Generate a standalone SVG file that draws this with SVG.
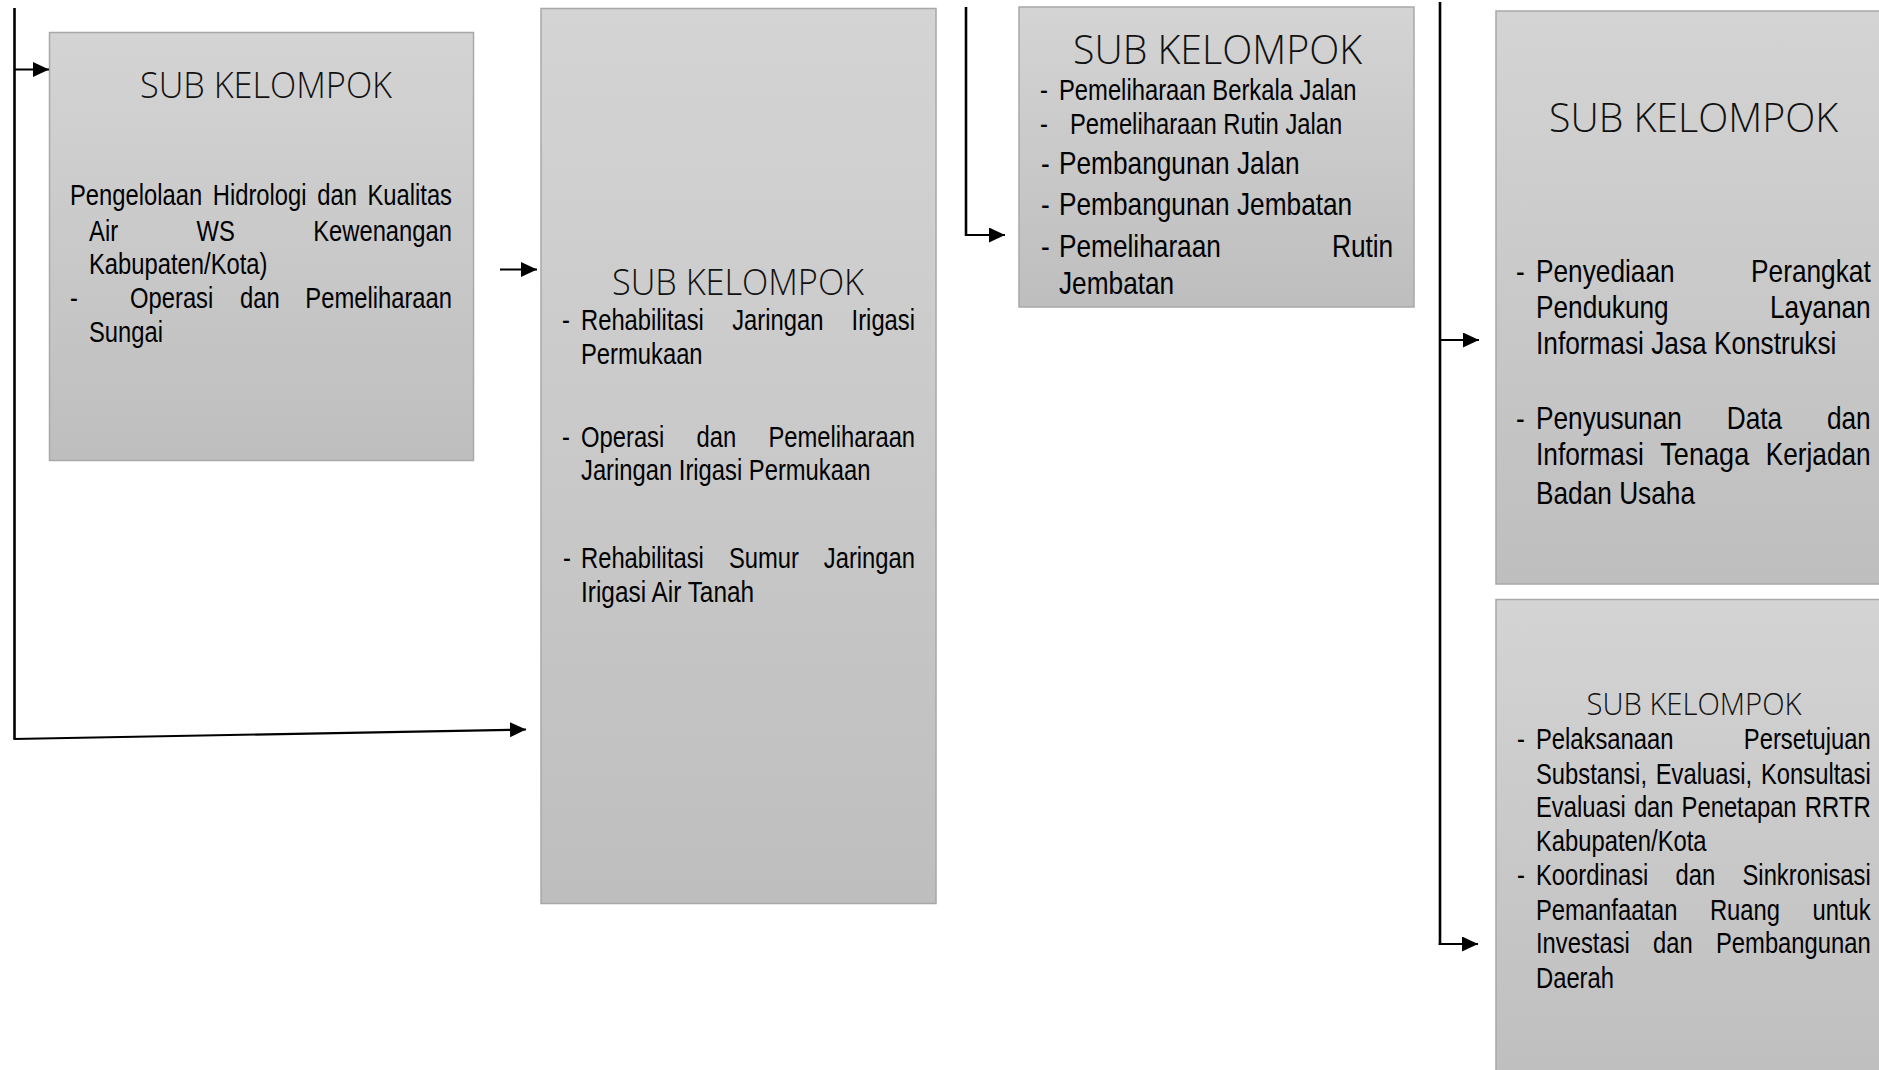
<svg xmlns="http://www.w3.org/2000/svg" width="1879" height="1070" viewBox="0 0 1879 1070">
<style>
.box{fill:url(#g);stroke:#a8a8a8;stroke-width:1.5}
.title{font-family:'Open Sans','Noto Sans',sans-serif;font-weight:300;fill:#111;text-anchor:middle}
.b{font-family:'Liberation Sans Narrow','Arial Narrow','Liberation Sans',Arial,sans-serif;font-size:29px;fill:#000}
.b32{font-size:32px}
.trunk{stroke:#000;stroke-width:2.6;fill:none}
.arr{stroke:#000;stroke-width:2.2;fill:none;marker-end:url(#ah)}
</style>
<defs>
<linearGradient id="g" x1="0" y1="0" x2="0" y2="1">
<stop offset="0" stop-color="#d4d4d4"/>
<stop offset="1" stop-color="#bebebe"/>
</linearGradient>
<marker id="ah" markerUnits="userSpaceOnUse" markerWidth="20" markerHeight="20" refX="16" refY="7.5" orient="auto">
<path d="M0,0 L16,7.5 L0,15 Z" fill="#000"/>
</marker>
</defs>
<rect width="1879" height="1070" fill="#fff"/>

<g id="node1">
<rect class="box" x="49.5" y="32.5" width="424" height="428"/>
<text class="title" x="266" y="98" font-size="36" textLength="252" lengthAdjust="spacingAndGlyphs">SUB KELOMPOK</text>
<text class="b" x="70" y="205" textLength="132.2" lengthAdjust="spacingAndGlyphs">Pengelolaan</text>
<text class="b" x="212.8" y="205" textLength="93.8" lengthAdjust="spacingAndGlyphs">Hidrologi</text>
<text class="b" x="317.2" y="205" textLength="39.7" lengthAdjust="spacingAndGlyphs">dan</text>
<text class="b" x="367.4" y="205" textLength="84.6" lengthAdjust="spacingAndGlyphs">Kualitas</text>
<text class="b" x="89" y="240.5" textLength="29.1" lengthAdjust="spacingAndGlyphs">Air</text>
<text class="b" x="196.5" y="240.5" textLength="38.3" lengthAdjust="spacingAndGlyphs">WS</text>
<text class="b" x="313.2" y="240.5" textLength="138.8" lengthAdjust="spacingAndGlyphs">Kewenangan</text>
<text class="b" x="89" y="274" textLength="178.5" lengthAdjust="spacingAndGlyphs">Kabupaten/Kota)</text>
<text class="b" x="70" y="307.5" textLength="7.9" lengthAdjust="spacingAndGlyphs">-</text>
<text class="b" x="130" y="307.5" textLength="83.3" lengthAdjust="spacingAndGlyphs">Operasi</text>
<text class="b" x="240" y="307.5" textLength="39.7" lengthAdjust="spacingAndGlyphs">dan</text>
<text class="b" x="305.3" y="307.5" textLength="146.7" lengthAdjust="spacingAndGlyphs">Pemeliharaan</text>
<text class="b" x="89" y="341.5" textLength="74" lengthAdjust="spacingAndGlyphs">Sungai</text>
</g>

<g id="node2">
<rect class="box" x="541" y="8.5" width="395" height="895"/>
<text class="title" x="738" y="295" font-size="36" textLength="252" lengthAdjust="spacingAndGlyphs">SUB KELOMPOK</text>
<text class="b" x="562" y="330" textLength="7.9" lengthAdjust="spacingAndGlyphs">-</text>
<text class="b" x="581" y="330" textLength="122.9" lengthAdjust="spacingAndGlyphs">Rehabilitasi</text>
<text class="b" x="732.2" y="330" textLength="91.2" lengthAdjust="spacingAndGlyphs">Jaringan</text>
<text class="b" x="851.6" y="330" textLength="63.4" lengthAdjust="spacingAndGlyphs">Irigasi</text>
<text class="b" x="581" y="363.5" textLength="121.6" lengthAdjust="spacingAndGlyphs">Permukaan</text>
<text class="b" x="562" y="446.5" textLength="7.9" lengthAdjust="spacingAndGlyphs">-</text>
<text class="b" x="581" y="446.5" textLength="83.3" lengthAdjust="spacingAndGlyphs">Operasi</text>
<text class="b" x="696.5" y="446.5" textLength="39.7" lengthAdjust="spacingAndGlyphs">dan</text>
<text class="b" x="768.4" y="446.5" textLength="146.7" lengthAdjust="spacingAndGlyphs">Pemeliharaan</text>
<text class="b" x="581" y="480" textLength="289.4" lengthAdjust="spacingAndGlyphs">Jaringan Irigasi Permukaan</text>
<text class="b" x="563" y="567.5" textLength="7.9" lengthAdjust="spacingAndGlyphs">-</text>
<text class="b" x="581" y="567.5" textLength="122.9" lengthAdjust="spacingAndGlyphs">Rehabilitasi</text>
<text class="b" x="728.9" y="567.5" textLength="70" lengthAdjust="spacingAndGlyphs">Sumur</text>
<text class="b" x="823.8" y="567.5" textLength="91.2" lengthAdjust="spacingAndGlyphs">Jaringan</text>
<text class="b" x="581" y="601.5" textLength="173.1" lengthAdjust="spacingAndGlyphs">Irigasi Air Tanah</text>
</g>

<g id="node3">
<rect class="box" x="1019" y="7" width="395" height="300"/>
<text class="title" x="1217.5" y="63.5" font-size="41" textLength="289" lengthAdjust="spacingAndGlyphs">SUB KELOMPOK</text>
<text class="b" x="1040" y="100" textLength="7.9" lengthAdjust="spacingAndGlyphs">-</text>
<text class="b" x="1059" y="100" textLength="297.4" lengthAdjust="spacingAndGlyphs">Pemeliharaan Berkala Jalan</text>
<text class="b" x="1040" y="133.5" textLength="7.9" lengthAdjust="spacingAndGlyphs">-</text>
<text class="b" x="1070" y="133.5" textLength="272.3" lengthAdjust="spacingAndGlyphs">Pemeliharaan Rutin Jalan</text>
<text class="b b32" x="1041" y="173.5" textLength="8.7" lengthAdjust="spacingAndGlyphs">-</text>
<text class="b b32" x="1059" y="173.5" textLength="240.7" lengthAdjust="spacingAndGlyphs">Pembangunan Jalan</text>
<text class="b b32" x="1041" y="215" textLength="8.7" lengthAdjust="spacingAndGlyphs">-</text>
<text class="b b32" x="1059" y="215" textLength="293.2" lengthAdjust="spacingAndGlyphs">Pembangunan Jembatan</text>
<text class="b b32" x="1041" y="256.5" textLength="8.7" lengthAdjust="spacingAndGlyphs">-</text>
<text class="b b32" x="1059" y="256.5" textLength="161.9" lengthAdjust="spacingAndGlyphs">Pemeliharaan</text>
<text class="b b32" x="1332" y="256.5" textLength="61.2" lengthAdjust="spacingAndGlyphs">Rutin</text>
<text class="b b32" x="1059" y="293.5" textLength="115.2" lengthAdjust="spacingAndGlyphs">Jembatan</text>
</g>

<g id="node4">
<rect class="box" x="1496" y="11" width="400" height="573"/>
<text class="title" x="1693.5" y="131.5" font-size="41" textLength="289" lengthAdjust="spacingAndGlyphs">SUB KELOMPOK</text>
<text class="b b32" x="1516" y="281.5" textLength="8.7" lengthAdjust="spacingAndGlyphs">-</text>
<text class="b b32" x="1536" y="281.5" textLength="138.6" lengthAdjust="spacingAndGlyphs">Penyediaan</text>
<text class="b b32" x="1751.1" y="281.5" textLength="119.6" lengthAdjust="spacingAndGlyphs">Perangkat</text>
<text class="b b32" x="1536" y="318" textLength="132.7" lengthAdjust="spacingAndGlyphs">Pendukung</text>
<text class="b b32" x="1770" y="318" textLength="100.7" lengthAdjust="spacingAndGlyphs">Layanan</text>
<text class="b b32" x="1536" y="354" textLength="300.4" lengthAdjust="spacingAndGlyphs">Informasi Jasa Konstruksi</text>
<text class="b b32" x="1516" y="428.5" textLength="8.7" lengthAdjust="spacingAndGlyphs">-</text>
<text class="b b32" x="1536" y="428.5" textLength="145.9" lengthAdjust="spacingAndGlyphs">Penyusunan</text>
<text class="b b32" x="1726.7" y="428.5" textLength="55.4" lengthAdjust="spacingAndGlyphs">Data</text>
<text class="b b32" x="1826.9" y="428.5" textLength="43.8" lengthAdjust="spacingAndGlyphs">dan</text>
<text class="b b32" x="1536" y="465" textLength="107.9" lengthAdjust="spacingAndGlyphs">Informasi</text>
<text class="b b32" x="1660.3" y="465" textLength="89" lengthAdjust="spacingAndGlyphs">Tenaga</text>
<text class="b b32" x="1765.7" y="465" textLength="105" lengthAdjust="spacingAndGlyphs">Kerjadan</text>
<text class="b b32" x="1536" y="503.5" textLength="159" lengthAdjust="spacingAndGlyphs">Badan Usaha</text>
</g>

<g id="node5">
<rect class="box" x="1496" y="599.5" width="400" height="490"/>
<text class="title" x="1694" y="715" font-size="31" textLength="215" lengthAdjust="spacingAndGlyphs">SUB KELOMPOK</text>
<text class="b" x="1517" y="748.5" textLength="7.9" lengthAdjust="spacingAndGlyphs">-</text>
<text class="b" x="1536" y="748.5" textLength="137.5" lengthAdjust="spacingAndGlyphs">Pelaksanaan</text>
<text class="b" x="1743.8" y="748.5" textLength="126.9" lengthAdjust="spacingAndGlyphs">Persetujuan</text>
<text class="b" x="1536" y="783.5" textLength="111" lengthAdjust="spacingAndGlyphs">Substansi,</text>
<text class="b" x="1655.7" y="783.5" textLength="96.5" lengthAdjust="spacingAndGlyphs">Evaluasi,</text>
<text class="b" x="1761" y="783.5" textLength="109.7" lengthAdjust="spacingAndGlyphs">Konsultasi</text>
<text class="b" x="1536" y="817" textLength="89.9" lengthAdjust="spacingAndGlyphs">Evaluasi</text>
<text class="b" x="1633.9" y="817" textLength="39.7" lengthAdjust="spacingAndGlyphs">dan</text>
<text class="b" x="1681.6" y="817" textLength="115" lengthAdjust="spacingAndGlyphs">Penetapan</text>
<text class="b" x="1804.7" y="817" textLength="66" lengthAdjust="spacingAndGlyphs">RRTR</text>
<text class="b" x="1536" y="850.5" textLength="170.6" lengthAdjust="spacingAndGlyphs">Kabupaten/Kota</text>
<text class="b" x="1517" y="885" textLength="7.9" lengthAdjust="spacingAndGlyphs">-</text>
<text class="b" x="1536" y="885" textLength="112.3" lengthAdjust="spacingAndGlyphs">Koordinasi</text>
<text class="b" x="1675.6" y="885" textLength="39.7" lengthAdjust="spacingAndGlyphs">dan</text>
<text class="b" x="1742.5" y="885" textLength="128.2" lengthAdjust="spacingAndGlyphs">Sinkronisasi</text>
<text class="b" x="1536" y="920" textLength="141.4" lengthAdjust="spacingAndGlyphs">Pemanfaatan</text>
<text class="b" x="1709.9" y="920" textLength="70.1" lengthAdjust="spacingAndGlyphs">Ruang</text>
<text class="b" x="1812.5" y="920" textLength="58.2" lengthAdjust="spacingAndGlyphs">untuk</text>
<text class="b" x="1536" y="953" textLength="93.8" lengthAdjust="spacingAndGlyphs">Investasi</text>
<text class="b" x="1653.1" y="953" textLength="39.7" lengthAdjust="spacingAndGlyphs">dan</text>
<text class="b" x="1716" y="953" textLength="154.7" lengthAdjust="spacingAndGlyphs">Pembangunan</text>
<text class="b" x="1536" y="988" textLength="78" lengthAdjust="spacingAndGlyphs">Daerah</text>
</g>

<g id="connectors">
<path class="trunk" d="M14.5,8 V739"/>
<path class="arr" d="M14.5,69.5 H49"/>
<path class="arr" d="M13.5,739 L526,729.5"/>
<path class="arr" d="M500,269.5 H537"/>
<path class="trunk" d="M966,7 V236"/>
<path class="arr" d="M966,235 H1005"/>
<path class="trunk" d="M1440,2 V945"/>
<path class="arr" d="M1440,340 H1479"/>
<path class="arr" d="M1438.7,944 H1478"/>
</g>
</svg>
